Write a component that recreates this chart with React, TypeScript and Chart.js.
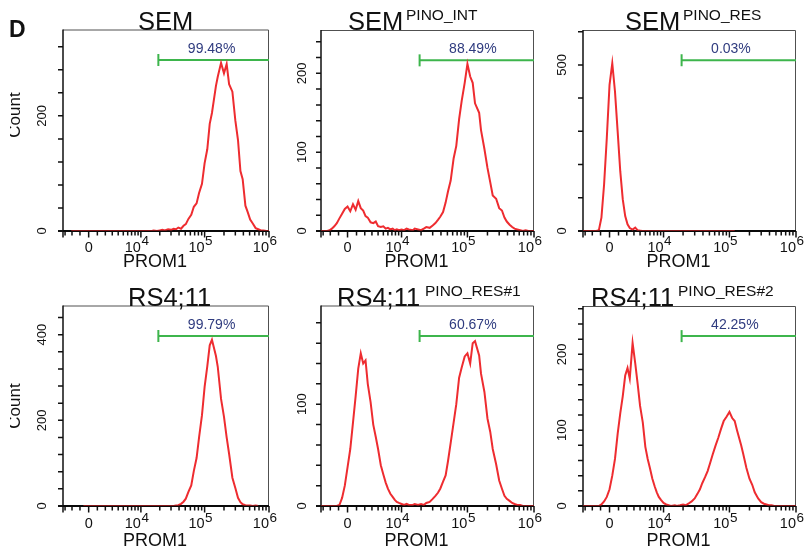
import React, { useEffect, useRef } from 'react';
import { Chart, registerables, LinearScale } from 'chart.js';

// ---------- data ----------
// histogram bin centres (PROM1 fluorescence)
const BINS = [
  -3300, -2800, -2400, -2100, -1800, -1500, -1200, -900, -600, -300,
  0, 300, 600, 900, 1200, 1500, 1800, 2100, 2400, 2800,
  3200, 3600, 4000, 4500, 5000, 5500, 6000, 6600, 7200, 7800,
  8400, 9100, 10000, 11000, 12000, 13000, 15000, 16000, 18000, 20000,
  22000, 24000, 27000, 30000, 33000, 36000, 39000, 43000, 47000, 51000,
  56000, 62000, 68000, 75000, 82000, 91000, 100000, 110000, 120000, 130000,
  150000, 160000, 180000, 200000, 220000, 240000, 270000, 300000, 330000, 360000,
  390000, 430000, 470000, 510000, 560000, 620000, 680000, 750000, 820000, 910000,
  1000000,
];

const COUNTS_SEM = [
  null, null, null, 0, 0, 0, 0, 0, 0, 0,
  0, 0, 0, 0, 0, 0, 0, 0, 0, 0,
  0, 0, 0, 0, 0, 0, 0, 0, 0, 0,
  0, 0, 0, 0, 0, 0, 0, 1, 0, 1,
  2, 1, 3, 2, 4, 3, 6, 4, 9, 12,
  21, 28, 42, 48, 66, 82, 118, 142, 186, 205,
  252, 268, 292, 274, 290, 255, 242, 192, 158, 104,
  90, 44, 32, 20, 13, 5, 3, 1, 1, 0,
  0,
];
const COUNTS_SEM_INT = [
  0, 0, 0, 1, 3, 6, 10, 16, 22, 28,
  31, 25, 34, 27, 38, 29, 26, 19, 17, 11,
  10, 12, 6, 5, 6, 3, 4, 2, 3, 1,
  2, 1, 2, 1, 3, 2, 1, 3, 2, 1,
  3, 5, 4, 7, 10, 14, 18, 24, 36, 50,
  64, 92, 108, 142, 165, 188, 212, 196, 188, 162,
  150, 128, 104, 80, 62, 45, 41, 29, 26, 17,
  12, 8, 5, 3, 2, 1, 0, 1, 0, 0,
  0,
];
const COUNTS_SEM_RES = [
  0, 0, 0, 0, 0, 0, 2, 40, 140, 280,
  440, 505, 420, 300, 180, 95, 45, 20, 9, 4,
  10, 2, 1, 0, 0, 0, 0, 0, 0, 0,
  0, 0, 0, 0, 0, 0, 0, 0, 0, 0,
  0, 0, 0, 0, 0, 0, 0, 0, 0, 0,
  0, 0, 0, 0, 0, 0, 0, 0, 0, null,
  null, null, null, null, null, null, null, null, null, null,
  null, null, null, null, null, null, null, null, null, null,
  null,
];
const COUNTS_RS4 = [
  null, null, null, null, null, null, null, null, 0, 0,
  0, 0, 0, 0, 0, 0, 0, 0, 0, 0,
  0, 0, 0, 0, 0, 0, 0, 0, 0, 0,
  0, 0, 0, 0, 0, 0, 0, 0, 0, 0,
  0, 0, 0, 0, 0, 1, 2, 5, 10, 17,
  33, 48, 82, 112, 160, 212, 278, 326, 375, 388,
  350, 325, 250, 208, 160, 122, 66, 42, 19, 9,
  4, 2, 1, 1, 0, 1, 0, null, null, null,
  null,
];
const COUNTS_RS4_RES1 = [
  0, 0, 0, 0, 0, 0, 0, 1, 8, 20,
  38, 56, 82, 108, 135, 150, 140, 143, 120, 102,
  80, 68, 56, 40, 31, 23, 17, 12, 9, 6,
  4, 3, 2, 1, 2, 1, 1, 2, 1, 2,
  1, 3, 4, 7, 10, 13, 17, 24, 30, 44,
  62, 82, 100, 126, 136, 147, 150, 140, 160, 162,
  148, 130, 112, 86, 73, 56, 41, 25, 17, 10,
  7, 5, 3, 2, 1, 1, 0, 0, 0, 0,
  0,
];
const COUNTS_RS4_RES2 = [
  0, 0, 0, 0, 0, 0, 0, 2, 6, 12,
  22, 40, 62, 95, 122, 145, 172, 182, 168, 215,
  188, 160, 132, 110, 78, 62, 50, 36, 26, 18,
  12, 8, 4, 2, 1, 0, 1, 0, 1, 2,
  1, 3, 6, 10, 16, 22, 30, 38, 46, 56,
  68, 80, 90, 102, 112, 118, 124, 116, 112, 100,
  80, 70, 50, 36, 28, 18, 10, 5, 3, 2,
  1, 1, 0, 0, 0, 0, 0, 0, 0, 0,
  0,
];

const TITLES = ['SEM', 'SEM', 'SEM', 'RS4;11', 'RS4;11', 'RS4;11'];
const SUPERSCRIPTS = ['', 'PINO_INT', 'PINO_RES', '', 'PINO_RES#1', 'PINO_RES#2'];
const GATE_LABELS = ['99.48%', '88.49%', '0.03%', '99.79%', '60.67%', '42.25%'];
const GATE_LEVELS = [297, 216.5, 514, 397, 167, 224];
const GATE_START = 19000;
const X_MIN = -3330;
const X_MAX = 1000000;
const X_MAJOR = [0, 10000, 100000, 1000000];
const X_LABEL_BASE = ['0', '10', '10', '10'];
const X_LABEL_EXP = ['', '4', '5', '6'];
const X_MINOR = [
  -3000, -2000, -1000, 1000, 2000, 3000, 4000, 5000, 6000, 7000, 8000, 9000,
  20000, 30000, 40000, 50000, 60000, 70000, 80000, 90000,
  200000, 300000, 400000, 500000, 600000, 700000, 800000, 900000,
];
const Y_TICKS_1 = [0, 40, 80, 120, 160, 200, 240, 280, 320];
const Y_TICKS_2 = [0, 20, 40, 60, 80, 100, 120, 140, 160, 180, 200, 220, 240];
const Y_TICKS_3 = [0, 100, 200, 300, 400, 500, 600];
const Y_TICKS_4 = [0, 40, 80, 120, 160, 200, 240, 280, 320, 360, 400, 440];
const Y_TICKS_5 = [0, 20, 40, 60, 80, 100, 120, 140, 160, 180];
const Y_TICKS_6 = [0, 20, 40, 60, 80, 100, 120, 140, 160, 180, 200, 220, 240, 260];
const Y_LABELS_1 = [0, 200];
const Y_LABELS_2 = [0, 100, 200];
const Y_LABELS_3 = [0, 500];
const Y_LABELS_4 = [0, 200, 400];
const Y_LABELS_5 = [0, 100];
const Y_LABELS_6 = [0, 100, 200];
const X_TITLE = 'PROM1';
const Y_TITLE = 'Count';
const PANEL_LETTER = 'D';

// ---------- asinh (biexponential-like) scale ----------
const COFACTOR = 3165;
class AsinhScale extends LinearScale {
  static id = 'asinh';
  getPixelForValue(value: any) {
    if (value === null || value === undefined || isNaN(value)) return NaN;
    const a = Math.asinh((this as any).min / COFACTOR);
    const b = Math.asinh((this as any).max / COFACTOR);
    return (this as any).getPixelForDecimal((Math.asinh(value / COFACTOR) - a) / (b - a));
  }
  getValueForPixel(pixel: number) {
    const a = Math.asinh((this as any).min / COFACTOR);
    const b = Math.asinh((this as any).max / COFACTOR);
    return COFACTOR * Math.sinh(a + (this as any).getDecimalForPixel(pixel) * (b - a));
  }
}
Chart.register(...registerables, AsinhScale as any);

const FONT = '"Liberation Sans", Arial, Helvetica, sans-serif';
const RED = '#ee2c30';
const GREEN = '#3db54c';
const NAVY = '#2f3b7f';

// ---------- layout ----------
const ROW_TEXT = [
  { title: 30, sup: 20, tick: 251.5, axisTitle: 267 },
  { title: 305.5, sup: 296, tick: 528, axisTitle: 546 },
];

const PANELS = [
  { cx: 0, cy: 0, cw: 277, ch: 276, box: { l: 63, t: 29.5, r: 276, b: 231 }, counts: COUNTS_SEM, yMax: 350, yTicks: Y_TICKS_1, yLabels: Y_LABELS_1, yGap: 17.5, titleX: 138, supX: 0, row: 0, countY: 115, letter: true },
  { cx: 277, cy: 0, cw: 269, ch: 276, box: { l: 321, t: 30, r: 534, b: 231 }, counts: COUNTS_SEM_INT, yMax: 255, yTicks: Y_TICKS_2, yLabels: Y_LABELS_2, yGap: 15.5, titleX: 348, supX: 406, row: 0, countY: 0, letter: false },
  { cx: 546, cy: 0, cw: 263, ch: 276, box: { l: 583, t: 30, r: 796, b: 231 }, counts: COUNTS_SEM_RES, yMax: 605, yTicks: Y_TICKS_3, yLabels: Y_LABELS_3, yGap: 17.5, titleX: 625, supX: 683, row: 0, countY: 0, letter: false },
  { cx: 0, cy: 276, cw: 277, ch: 276, box: { l: 63, t: 305.5, r: 276, b: 506 }, counts: COUNTS_RS4, yMax: 468, yTicks: Y_TICKS_4, yLabels: Y_LABELS_4, yGap: 17.5, titleX: 128, supX: 0, row: 1, countY: 406, letter: false },
  { cx: 277, cy: 276, cw: 269, ch: 276, box: { l: 321, t: 305.5, r: 534, b: 506 }, counts: COUNTS_RS4_RES1, yMax: 197, yTicks: Y_TICKS_5, yLabels: Y_LABELS_5, yGap: 15.5, titleX: 337, supX: 425, row: 1, countY: 0, letter: false },
  { cx: 546, cy: 276, cw: 263, ch: 276, box: { l: 583, t: 306, r: 796, b: 506 }, counts: COUNTS_RS4_RES2, yMax: 263.7, yTicks: Y_TICKS_6, yLabels: Y_LABELS_6, yGap: 17.5, titleX: 591, supX: 678, row: 1, countY: 0, letter: false },
];

function makeDeco(p: any, idx: number) {
  const rt = ROW_TEXT[p.row];
  return {
    id: 'deco' + idx,
    beforeDatasetsDraw(chart: any) {
      const { ctx, chartArea: a } = chart;
      const xs = chart.scales.x;
      const ys = chart.scales.y;
      ctx.save();
      ctx.lineCap = 'butt';
      // frame top & right
      ctx.strokeStyle = '#505050';
      ctx.lineWidth = 1;
      ctx.beginPath();
      ctx.moveTo(a.left, a.top + 0.5);
      ctx.lineTo(a.right - 0.5, a.top + 0.5);
      ctx.lineTo(a.right - 0.5, a.bottom);
      ctx.stroke();
      // left axis + y ticks
      ctx.strokeStyle = '#111';
      ctx.lineWidth = 1.5;
      ctx.beginPath();
      ctx.moveTo(a.left, a.top);
      ctx.lineTo(a.left, a.bottom);
      for (const v of p.yTicks) {
        const py = ys.getPixelForValue(v);
        ctx.moveTo(a.left - 5, py);
        ctx.lineTo(a.left, py);
      }
      ctx.stroke();
      // x ticks
      ctx.beginPath();
      for (const v of [X_MIN, ...X_MAJOR]) {
        const px = xs.getPixelForValue(v);
        ctx.moveTo(px, a.bottom);
        ctx.lineTo(px, a.bottom + 6.5);
      }
      for (const v of X_MINOR) {
        const px = xs.getPixelForValue(v);
        ctx.moveTo(px, a.bottom);
        ctx.lineTo(px, a.bottom + 4.5);
      }
      ctx.stroke();
      // bottom axis
      ctx.lineWidth = 2;
      ctx.beginPath();
      ctx.moveTo(a.left - 5, a.bottom);
      ctx.lineTo(a.right, a.bottom);
      ctx.stroke();
      ctx.restore();
    },
    afterDatasetsDraw(chart: any) {
      const { ctx, chartArea: a } = chart;
      ctx.save();
      ctx.strokeStyle = 'rgba(0,0,0,0.45)';
      ctx.lineWidth = 2;
      ctx.beginPath();
      ctx.moveTo(a.left, a.bottom);
      ctx.lineTo(a.right, a.bottom);
      ctx.stroke();
      ctx.restore();
    },
    afterDraw(chart: any) {
      const { ctx, chartArea: a } = chart;
      const xs = chart.scales.x;
      const ys = chart.scales.y;
      const dx = p.cx;
      const dy = p.cy;
      ctx.save();
      ctx.fillStyle = '#111';
      ctx.textBaseline = 'alphabetic';
      // title
      ctx.textAlign = 'left';
      ctx.font = `25.5px ${FONT}`;
      ctx.fillText(TITLES[idx], p.titleX - dx, rt.title - dy);
      if (SUPERSCRIPTS[idx]) {
        ctx.font = `15.5px ${FONT}`;
        ctx.fillText(SUPERSCRIPTS[idx], p.supX - dx, rt.sup - dy);
      }
      // y labels (rotated)
      ctx.font = `13px ${FONT}`;
      for (const v of p.yLabels) {
        const py = ys.getPixelForValue(v);
        ctx.save();
        ctx.translate(a.left - p.yGap, py);
        ctx.rotate(-Math.PI / 2);
        ctx.textAlign = 'center';
        ctx.fillText(String(v), 0, 0);
        ctx.restore();
      }
      // x labels
      X_MAJOR.forEach((v, i) => {
        const px = xs.getPixelForValue(v);
        const by = rt.tick - dy;
        ctx.font = `14.5px ${FONT}`;
        if (!X_LABEL_EXP[i]) {
          ctx.textAlign = 'center';
          ctx.fillText(X_LABEL_BASE[i], px, by);
        } else {
          ctx.textAlign = 'right';
          ctx.fillText(X_LABEL_BASE[i], px, by);
          ctx.font = `13.5px ${FONT}`;
          ctx.textAlign = 'left';
          ctx.fillText(X_LABEL_EXP[i], px + 0.5, by - 6.5);
        }
      });
      // x axis title
      ctx.font = `18px ${FONT}`;
      ctx.textAlign = 'center';
      ctx.fillText(X_TITLE, (a.left + a.right) / 2 - 11, rt.axisTitle - dy);
      // gate label
      ctx.fillStyle = NAVY;
      ctx.font = `14px ${FONT}`;
      ctx.textAlign = 'left';
      ctx.fillText(GATE_LABELS[idx], xs.getPixelForValue(GATE_START) + 29.5, ys.getPixelForValue(GATE_LEVELS[idx]) - 7);
      ctx.fillStyle = '#111';
      // y axis title, clipped at the figure's left crop
      if (p.countY) {
        ctx.save();
        ctx.beginPath();
        ctx.rect(10 - dx, 0, 60, chart.height);
        ctx.clip();
        ctx.translate(20 - dx, p.countY - dy);
        ctx.rotate(-Math.PI / 2);
        ctx.font = `17px ${FONT}`;
        ctx.textAlign = 'center';
        ctx.fillText(Y_TITLE, 0, 0);
        ctx.restore();
      }
      if (p.letter) {
        ctx.font = `bold 23px ${FONT}`;
        ctx.textAlign = 'left';
        ctx.fillText(PANEL_LETTER, 9 - dx, 37 - dy);
      }
      ctx.restore();
    },
  };
}

function Panel({ p, idx }: { p: any; idx: number }) {
  const ref = useRef<HTMLCanvasElement | null>(null);
  useEffect(() => {
    if (!ref.current) return;
    const chart = new Chart(ref.current, {
      type: 'line',
      data: {
        datasets: [
          {
            data: BINS.map((x, i) => ({ x, y: p.counts[i] })),
            borderColor: RED,
            borderWidth: 2,
            pointRadius: 0,
            tension: 0,
            fill: false,
          },
          {
            data: [
              { x: GATE_START, y: GATE_LEVELS[idx] },
              { x: X_MAX, y: GATE_LEVELS[idx] },
            ],
            borderColor: GREEN,
            borderWidth: 2,
            pointRadius: [6, 0],
            pointStyle: 'line',
            pointRotation: 90,
            pointBorderColor: GREEN,
            pointBorderWidth: 2,
            pointHoverRadius: 0,
            fill: false,
          },
        ],
      } as any,
      options: {
        animation: false,
        responsive: false,
        maintainAspectRatio: false,
        events: [],
        layout: {
          padding: {
            left: p.box.l - p.cx,
            top: p.box.t - p.cy,
            right: p.cx + p.cw - p.box.r,
            bottom: p.cy + p.ch - p.box.b,
          },
        },
        plugins: {
          legend: { display: false },
          tooltip: { enabled: false },
          title: { display: false },
        },
        scales: {
          x: { type: 'asinh', min: X_MIN, max: X_MAX, display: false } as any,
          y: { type: 'linear', min: 0, max: p.yMax, display: false },
        },
      } as any,
      plugins: [makeDeco(p, idx)],
    });
    return () => chart.destroy();
  }, []);
  return (
    <canvas
      ref={ref}
      width={p.cw}
      height={p.ch}
      style={{ position: 'absolute', left: p.cx, top: p.cy, width: p.cw, height: p.ch }}
    />
  );
}

export default function App() {
  return (
    <div
      style={{
        position: 'absolute',
        left: 0,
        top: 0,
        width: 809,
        height: 552,
        background: '#fff',
        overflow: 'hidden',
      }}
    >
      {PANELS.map((p, i) => (
        <Panel key={i} p={p} idx={i} />
      ))}
    </div>
  );
}
